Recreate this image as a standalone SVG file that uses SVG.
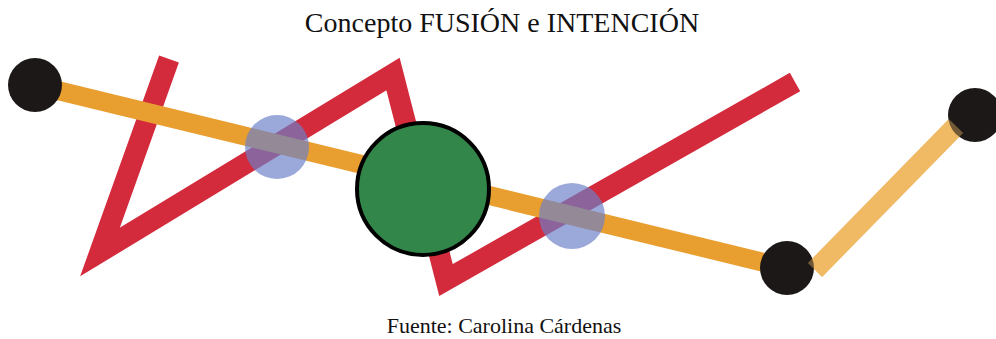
<svg xmlns="http://www.w3.org/2000/svg" width="996" height="339" viewBox="0 0 996 339">
  <style>
    .txt { font-family: "Liberation Serif", "Times New Roman", serif; fill: #111; text-anchor: middle; }
    .red { fill: none; stroke: #d32a3c; stroke-width: 21; stroke-linejoin: miter; stroke-miterlimit: 10; stroke-linecap: butt; }
    .orange { stroke: #e99e30; stroke-width: 19; stroke-linecap: butt; }
    .light { stroke: #f0b964; stroke-width: 20; stroke-linecap: butt; }
    .dot { fill: #1c1818; }
    .blue { fill: #6a7fc8; fill-opacity: 0.68; }
    .green { fill: #32864a; stroke: #000; stroke-width: 4; }
  </style>
  <rect width="996" height="339" fill="#ffffff"/>
  <text class="txt" x="502" y="32" font-size="28">Concepto FUSIÓN e INTENCIÓN</text>
  <g id="connectors">
    <polyline id="zigzag" class="red" points="169,59 100,252 393,74 446,280 795,82"/>
    <line id="path-main" class="orange" x1="35" y1="85" x2="787" y2="268"/>
    <line id="path-light" class="light" x1="815" y1="270" x2="956" y2="126"/>
  </g>
  <g id="node-start"><circle class="dot" cx="35" cy="85" r="27"/></g>
  <g id="node-mid"><circle class="dot" cx="787" cy="268" r="27"/></g>
  <g id="node-end"><circle class="dot" cx="975" cy="115" r="27"/></g>
  <line class="light" x1="815" y1="270" x2="956" y2="126" opacity="0.4"/>
  <g id="fusion-1"><circle class="blue" cx="277" cy="147" r="32"/></g>
  <g id="fusion-2"><circle class="blue" cx="572" cy="216" r="33"/></g>
  <g id="intention"><circle class="green" cx="423" cy="189" r="66"/></g>
  <text class="txt" x="504" y="333" font-size="22">Fuente: Carolina Cárdenas</text>
</svg>
